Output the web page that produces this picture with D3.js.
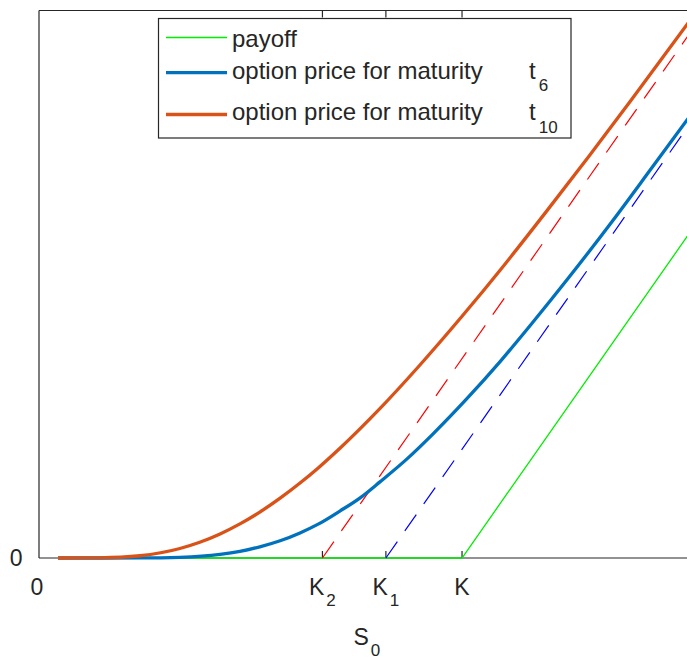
<!DOCTYPE html>
<html><head><meta charset="utf-8">
<script src="https://cdn.jsdelivr.net/npm/d3@7"></script>
<style>html,body{margin:0;padding:0;background:#fff;overflow:hidden}
text{font-family:"Liberation Sans",Arial,Helvetica,sans-serif;fill:#262626}</style>
</head><body><svg id="chart" width="687" height="658"></svg>
<script>
// ---- data (K = 100 units) ----
const strikeK = 100, strikeK1 = 82, strikeK2 = 67;
const payoffSpot  = [4.5, 100, 155];
const payoffValue = [0, 0, 55];
const t6Spot  = [4.5, 14.4, 23.9, 33.3, 42.8, 47.5, 52.2, 57, 61.7, 66, 71.2, 76, 80.6, 87, 93.1, 101.2, 109, 116.5, 125, 135.7, 145, 155];
const t6Value = [0, 0, 0.01, 0.12, 0.6, 1.1, 1.85, 2.85, 4.15, 5.6, 7.8, 10.0, 12.6, 16.4, 20.5, 26.4, 32.5, 38.8, 46.2, 55.9, 64.7, 74.2];
const t10Spot  = [4.5, 14.4, 23.9, 33.3, 38, 42.8, 47.5, 52.2, 57, 61.7, 66, 71.2, 80, 90, 100, 110, 120, 130, 140, 155];
const t10Value = [0, 0.03, 0.37, 1.57, 2.6, 3.98, 5.64, 7.6, 9.9, 12.4, 14.9, 18.2, 24.3, 31.9, 40.0, 48.5, 57.4, 66.5, 75.8, 90.0];
const bound10Spot  = [67, 155];
const bound10Value = [0, 88];
const bound6Spot  = [82, 155];
const bound6Value = [0, 73];
const xTickValues = [0, 67, 82, 100];
const xTickMain = ["0", "K", "K", "K"];
const xTickSub  = ["", "2", "1", ""];
const yTickValues = [0];
const yTickLabels = ["0"];
const legendLabels = ["payoff", "option price for maturity", "option price for maturity"];
const legendT = ["", "t", "t"];
const legendSub = ["", "6", "10"];

// ---- layout ----
const svg = d3.select("#chart");
const L = 39, R = 694.7, T = 10.5, B = 558;
const x = d3.scaleLinear().domain([0, 155]).range([L, R]);
const y = d3.scaleLinear().domain([0, 90.6]).range([B, T]);
const axisCol = "#262626";

// axes box (below data)
const ax = svg.append("g");
ax.append("line").attr("x1", L).attr("x2", R).attr("y1", B).attr("y2", B).attr("stroke", axisCol).attr("stroke-width", 1.2);
ax.append("line").attr("x1", L).attr("x2", R).attr("y1", T).attr("y2", T).attr("stroke", axisCol).attr("stroke-width", 1.2);
ax.append("line").attr("x1", L).attr("x2", L).attr("y1", T).attr("y2", B).attr("stroke", axisCol).attr("stroke-width", 1.2);
ax.append("line").attr("x1", R).attr("x2", R).attr("y1", T).attr("y2", B).attr("stroke", axisCol).attr("stroke-width", 1.2);
xTickValues.forEach(v => {
  if (v === 0) return;
  ax.append("line").attr("x1", x(v)).attr("x2", x(v)).attr("y1", B).attr("y2", B - 7).attr("stroke", axisCol).attr("stroke-width", 1.2);
  ax.append("line").attr("x1", x(v)).attr("x2", x(v)).attr("y1", T).attr("y2", T + 7).attr("stroke", axisCol).attr("stroke-width", 1.2);
});

// tick labels
xTickValues.forEach((v, i) => {
  const t = svg.append("text").attr("x", x(v) - (v === 0 ? 2 : 0)).attr("y", 595)
    .attr("text-anchor", "middle").attr("font-size", 23);
  t.append("tspan").text(xTickMain[i]);
  if (xTickSub[i]) t.append("tspan").attr("dx", 2).attr("dy", 11).attr("font-size", 17).text(xTickSub[i]);
});
yTickValues.forEach((v, i) => {
  svg.append("text").attr("x", 22.5).attr("y", y(v) + 8.3).attr("text-anchor", "end").attr("font-size", 23).text(yTickLabels[i]);
});
const xl = svg.append("text").attr("x", (L + R) / 2).attr("y", 645).attr("text-anchor", "middle").attr("font-size", 23);
xl.append("tspan").text("S");
xl.append("tspan").attr("dx", 2).attr("dy", 11).attr("font-size", 17).text("0");

// clip
svg.append("clipPath").attr("id", "plotclip").append("rect").attr("x", L).attr("y", T).attr("width", R - L).attr("height", B - T + 2);
const plot = svg.append("g").attr("clip-path", "url(#plotclip)");
const smooth = d3.line().x(d => x(d[0])).y(d => y(d[1])).curve(d3.curveMonotoneX);
const straight = d3.line().x(d => x(d[0])).y(d => y(d[1])).curve(d3.curveLinear);
const zip = (a, b) => a.map((v, i) => [v, b[i]]);

plot.append("path").datum(zip(payoffSpot, payoffValue)).attr("d", straight).attr("fill", "none").attr("stroke", "#00ee00").attr("stroke-width", 1.3);
plot.append("path").datum(zip(bound10Spot, bound10Value)).attr("d", straight).attr("fill", "none").attr("stroke", "#ff0000").attr("stroke-width", 1.2).attr("stroke-dasharray", "20,13");
plot.append("path").datum(zip(bound6Spot, bound6Value)).attr("d", straight).attr("fill", "none").attr("stroke", "#0000ff").attr("stroke-width", 1.2).attr("stroke-dasharray", "20,13");
plot.append("path").datum(zip(t6Spot, t6Value)).attr("d", smooth).attr("fill", "none").attr("stroke", "#0072BD").attr("stroke-width", 3.3);
plot.append("path").datum(zip(t10Spot, t10Value)).attr("d", smooth).attr("fill", "none").attr("stroke", "#D95319").attr("stroke-width", 3.3);

// legend
const lg = svg.append("g");
lg.append("rect").attr("x", 158.5).attr("y", 18.5).attr("width", 412.5).attr("height", 119.5).attr("fill", "#fff").attr("stroke", axisCol).attr("stroke-width", 1.2);
const legColors = ["#00ee00", "#0072BD", "#D95319"];
const legWidths = [1.3, 3.3, 3.3];
const legLineY = [37.5, 72.7, 114.5];
const legBase = [46.7, 79, 119.5];
const legSubDy = [0, 12, 13];
legendLabels.forEach((lab, i) => {
  lg.append("line").attr("x1", 166).attr("x2", 227).attr("y1", legLineY[i]).attr("y2", legLineY[i])
    .attr("stroke", legColors[i]).attr("stroke-width", legWidths[i]);
  lg.append("text").attr("x", 232).attr("y", legBase[i]).attr("font-size", 24).text(lab);
  if (legendT[i]) {
    const t = lg.append("text").attr("x", 529).attr("y", legBase[i]).attr("font-size", 24);
    t.append("tspan").text(legendT[i]);
    t.append("tspan").attr("dx", 3).attr("dy", legSubDy[i]).attr("font-size", 17).text(legendSub[i]);
  }
});
</script></body></html>
